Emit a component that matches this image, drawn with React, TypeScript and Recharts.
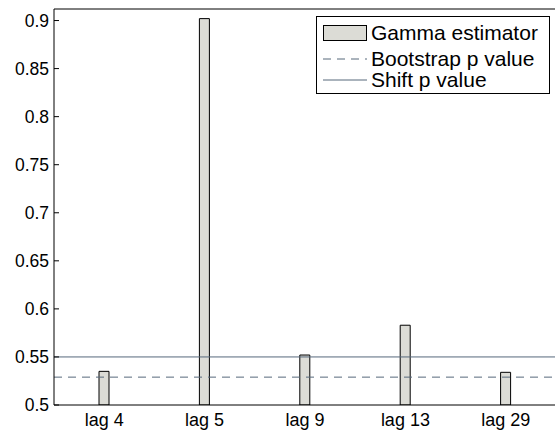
import React from "react";
import {
  Bar,
  ComposedChart,
  ReferenceLine,
  XAxis,
  YAxis,
} from "recharts";

// values
const lags = ["lag 4", "lag 5", "lag 9", "lag 13", "lag 29"];
const gammaEstimator = [0.535, 0.902, 0.552, 0.583, 0.534];
const bootstrapP = [0.529];
const shiftP = [0.55];
const yTicks = [0.5, 0.55, 0.6, 0.65, 0.7, 0.75, 0.8, 0.85, 0.9];
const yDomain = [0.5, 0.912];

const data = lags.map((lag, i) => ({ lag, gamma: gammaEstimator[i] }));

const FONT = "'Liberation Sans', Arial, Helvetica, sans-serif";
const BAR_FILL = "#dcdcd6";
const LINE_COLOR = "#56687b";

const LegendBox = () => (
	<div
		style={{
			position: "absolute",
			left: 316,
			top: 16,
			width: 232,
			height: 76,
			border: "1px solid #000",
			background: "#fff",
			fontFamily: FONT,
			fontSize: 21,
			color: "#000",
		}}
	>
		{[
			{ label: "Gamma estimator", kind: "bar" },
			{ label: "Bootstrap p value", kind: "dash" },
			{ label: "Shift p value", kind: "line" },
		].map((row, i) => (
			<div
				key={row.label}
				style={{
					position: "absolute",
					left: 0,
					top: [16, 42, 63][i] - 12,
					height: 24,
					display: "flex",
					alignItems: "center",
					whiteSpace: "nowrap",
				}}
			>
				<svg width={54} height={24} style={{ display: "block" }}>
					{row.kind === "bar" && (
						<rect x={6.5} y={4.5} width={43} height={15} fill={BAR_FILL} stroke="#000" />
					)}
					{row.kind === "dash" && (
						<line x1={6} x2={50} y1={12} y2={12} stroke={LINE_COLOR} strokeDasharray="8 6" />
					)}
					{row.kind === "line" && (
						<line x1={6} x2={50} y1={12} y2={12} stroke={LINE_COLOR} />
					)}
				</svg>
				<span style={{ lineHeight: "24px" }}>{row.label}</span>
			</div>
		))}
	</div>
);

export default function App() {
	return (
		<div
			style={{
				position: "absolute",
				left: 0,
				top: 0,
				width: 555,
				height: 432,
				overflow: "hidden",
				background: "#fff",
			}}
		>
			<ComposedChart
				width={560}
				height={432}
				data={data}
				margin={{ top: 8, right: 0, bottom: 0, left: 0 }}
			>
				<XAxis
					dataKey="lag"
					height={27}
					tickSize={-5}
					tickMargin={13}
					axisLine={{ stroke: "#000" }}
					tickLine={false}
					tick={{ fill: "#000", fontSize: 18, fontFamily: FONT }}
					interval={0}
				/>
				<XAxis
					xAxisId="top"
					orientation="top"
					dataKey="lag"
					height={1}
					tickSize={-5}
					tick={false}
					axisLine={{ stroke: "#000" }}
					tickLine={{ stroke: "#000" }}
					interval={0}
				/>
				<YAxis
					width={54}
					domain={yDomain}
					ticks={yTicks}
					type="number"
					allowDataOverflow
					tickSize={-5}
					tickMargin={10}
					axisLine={{ stroke: "#000" }}
					tickLine={{ stroke: "#000" }}
					tick={{ fill: "#000", fontSize: 17.5, fontFamily: FONT }}
					tickFormatter={(v: number) => String(v)}
				/>
				<YAxis
					yAxisId="r"
					orientation="right"
					width={4}
					domain={yDomain}
					ticks={yTicks}
					type="number"
					allowDataOverflow
					tickSize={-5}
					tick={false}
					axisLine={{ stroke: "#000" }}
					tickLine={{ stroke: "#000" }}
				/>
				<Bar
					dataKey="gamma"
					barSize={10}
					fill={BAR_FILL}
					stroke="#000"
					strokeWidth={1}
					isAnimationActive={false}
				/>
				<ReferenceLine y={bootstrapP[0]} stroke={LINE_COLOR} strokeDasharray="8 6" />
				<ReferenceLine y={shiftP[0]} stroke={LINE_COLOR} />
			</ComposedChart>
			<LegendBox />
		</div>
	);
}
